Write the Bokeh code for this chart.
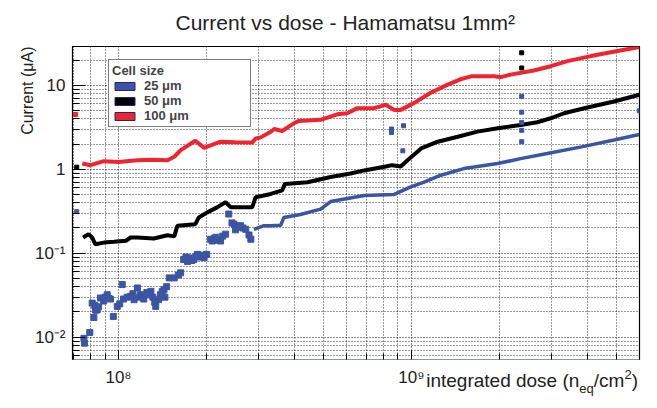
from bokeh.plotting import figure
from bokeh.layouts import column
from bokeh.models import (FixedTicker, CustomJSTickFormatter, Legend, LegendItem,
                          Title, ColumnDataSource, Div)
from bokeh.embed import file_html
from bokeh.resources import INLINE

# ---------------- data ----------------
red_x = [7.52e7, 8.02e7, 8.91e7, 1.00e8, 1.16e8, 1.30e8, 1.47e8, 1.55e8, 1.63e8, 1.83e8,
         1.96e8, 2.23e8, 2.50e8, 2.86e8, 2.94e8, 3.06e8, 3.31e8, 3.40e8, 3.62e8, 3.97e8,
         4.13e8, 4.90e8, 5.58e8, 6.04e8, 6.54e8, 7.45e8, 8.17e8, 8.73e8, 9.19e8, 1.02e9,
         1.16e9, 1.33e9, 1.47e9, 1.60e9, 1.92e9, 2.02e9, 2.18e9, 2.62e9, 2.99e9, 3.41e9,
         4.10e9, 5.06e9, 6.00e9]
red_y = [1.17, 1.12, 1.25, 1.22, 1.28, 1.30, 1.28, 1.41, 1.69, 2.19,
         1.80, 2.13, 2.10, 2.08, 2.33, 2.40, 2.80, 3.02, 2.86, 3.53,
         3.77, 3.88, 4.52, 4.65, 5.35, 5.35, 5.86, 5.10, 5.10, 6.14,
         8.09, 10.2, 11.8, 12.8, 12.8, 12.5, 13.4, 15.0, 16.9, 19.4,
         22.3, 25.6, 28.6]
red_out_x = [7.14e7]
red_out_y = [4.5]

black_x = [7.57e7, 7.90e7, 8.13e7, 8.34e7, 8.91e7, 9.64e7, 1.06e8, 1.10e8, 1.16e8, 1.32e8,
           1.47e8, 1.55e8, 1.59e8, 1.83e8, 1.88e8, 2.01e8, 2.17e8, 2.32e8, 2.42e8, 2.86e8,
           2.94e8, 3.31e8, 3.62e8, 3.70e8, 4.42e8, 5.30e8, 6.20e8, 6.90e8, 8.10e8, 8.60e8,
           9.20e8, 9.70e8, 1.08e9, 1.23e9, 1.44e9, 1.68e9, 1.97e9, 2.36e9, 2.69e9, 2.99e9,
           3.32e9, 3.99e9, 4.92e9, 6.00e9]
black_y = [0.154, 0.169, 0.154, 0.128, 0.134, 0.137, 0.141, 0.154, 0.154, 0.150,
           0.164, 0.159, 0.213, 0.222, 0.267, 0.307, 0.352, 0.405, 0.352, 0.352,
           0.465, 0.509, 0.56, 0.67, 0.70, 0.81, 0.89, 0.97, 1.07, 1.12,
           1.08, 1.28, 1.77, 2.13, 2.44, 2.81, 3.08, 3.37, 3.63, 4.05,
           4.65, 5.44, 6.42, 7.73]
black_out_x = [7.2e7, 2.38e9, 2.38e9]
black_out_y = [1.06, 24.4, 16.1]

blue_x = [2.90e8, 3.14e8, 3.31e8, 3.58e8, 3.67e8, 4.18e8, 4.90e8, 5.30e8, 6.90e8, 8.70e8,
          9.90e8, 1.10e9, 1.26e9, 1.51e9, 1.97e9, 2.36e9, 2.91e9, 3.81e9, 4.92e9, 6.00e9]
blue_y = [0.193, 0.213, 0.213, 0.215, 0.267, 0.29, 0.336, 0.413, 0.488, 0.50,
          0.614, 0.70, 0.85, 1.02, 1.17, 1.34, 1.54, 1.85, 2.23, 2.60]
blue_scatter_x = [7.62e7, 7.65e7, 7.98e7, 8.24e7, 8.13e7, 8.30e7, 8.46e7, 8.68e7, 8.90e7, 9.15e7,
                  9.39e7, 9.60e7, 9.90e7, 1.03e8, 1.04e8, 1.07e8, 1.10e8, 1.13e8, 1.16e8, 1.19e8,
                  1.22e8, 1.25e8, 1.29e8, 1.31e8, 1.34e8, 1.37e8, 1.39e8, 1.43e8, 1.46e8, 1.49e8,
                  1.55e8, 1.60e8, 1.63e8, 1.67e8, 1.72e8, 1.76e8, 1.81e8, 1.86e8, 1.91e8, 1.96e8,
                  2.00e8, 2.06e8, 2.12e8, 2.18e8, 2.23e8, 2.32e8, 2.38e8, 2.44e8, 2.48e8, 2.55e8,
                  2.61e8, 2.66e8, 2.72e8, 2.79e8, 2.83e8,
                  8.35e7, 8.55e7, 9.00e7, 9.25e7, 1.01e8, 1.12e8, 1.18e8, 1.27e8, 1.33e8, 1.41e8,
                  1.44e8, 1.70e8, 1.78e8, 1.84e8, 1.94e8, 2.09e8, 2.15e8, 2.27e8, 2.51e8, 2.58e8]
blue_scatter_y = [0.0097, 0.0085, 0.0114, 0.0172, 0.0255, 0.0240, 0.0212, 0.0293, 0.0270, 0.0321,
                  0.0285, 0.0177, 0.0233, 0.0424, 0.0285, 0.0300, 0.0307, 0.0280, 0.0386, 0.0321,
                  0.0285, 0.0340, 0.0352, 0.0300, 0.0233, 0.0280, 0.0321, 0.0369, 0.0400, 0.0509,
                  0.0509, 0.0550, 0.0585, 0.0845, 0.0800, 0.0880, 0.0845, 0.0970, 0.0900, 0.0885,
                  0.0970, 0.147, 0.150, 0.143, 0.140, 0.169, 0.293, 0.230, 0.222, 0.210,
                  0.213, 0.200, 0.193, 0.165, 0.147,
                  0.0210, 0.0230, 0.0300, 0.0290, 0.0250, 0.0330, 0.0300, 0.0320, 0.0260, 0.0350,
                  0.0300, 0.0900, 0.0820, 0.0920, 0.0950, 0.140, 0.155, 0.160, 0.190, 0.205]
blue_out_x = [7.2e7, 8.55e8, 8.55e8, 9.4e8, 9.35e8, 2.38e9, 2.38e9, 2.38e9, 2.38e9, 2.38e9, 6.0e9]
blue_out_y = [0.313, 3.02, 2.75, 3.3, 1.66, 7.38, 4.79, 3.62, 2.91, 2.13, 4.97]

series_labels = ["25 \u03bcm", "50 \u03bcm", "100 \u03bcm"]
series_colors = ["#3b55a3", "#000000", "#ee2430"]

x_major = [1e8, 1e9]
x_major_labels = ["10\u2078", "10\u2079"]
x_minor = [7e7, 8e7, 9e7, 2e8, 3e8, 4e8, 5e8, 6e8, 7e8, 8e8, 9e8,
           2e9, 3e9, 4e9, 5e9, 6e9]
y_major = [0.01, 0.1, 1, 10]
y_major_labels = ["10\u207b\u00b2", "10\u207b\u00b9", "1", "10"]
y_minor = [0.006, 0.007, 0.008, 0.009, 0.02, 0.03, 0.04, 0.05, 0.06, 0.07, 0.08, 0.09,
           0.2, 0.3, 0.4, 0.5, 0.6, 0.7, 0.8, 0.9, 2, 3, 4, 5, 6, 7, 8, 9, 20]

# x axis title pieces: main text, subscript, tail, superscript, close
xlabel_parts = ["integrated dose (n", "eq", "/cm", "2", ")"]

FONT = "Liberation Sans"
W, H = 641, 390
BL, BR, BT, BB = 72, 2, 45, 31
FW, FH = W - BL - BR, H - BT - BB

p = figure(width=W, height=H, x_axis_type="log", y_axis_type="log",
           x_range=(6.965e7, 6.01e9), y_range=(0.00543, 29.0),
           output_backend="svg", toolbar_location=None,
           min_border_left=BL, min_border_right=BR, min_border_top=BT, min_border_bottom=BB)

p.title.text = "Current vs dose - Hamamatsu 1mm\u00b2"
p.title.align = "left"
p.title.offset = 103
p.title.vertical_align = "top"
p.title.text_font = FONT
p.title.text_font_size = "21px"
p.title.text_font_style = "normal"
p.title.text_color = "#222222"
p.title.standoff = 21

p.background_fill_color = "white"
p.border_fill_color = "white"
p.outline_line_color = "black"
p.outline_line_width = 1.2

xt = FixedTicker(ticks=x_major, minor_ticks=x_minor)
yt = FixedTicker(ticks=y_major, minor_ticks=y_minor)
p.xaxis.ticker = xt
p.yaxis.ticker = yt
p.xgrid.ticker = xt
p.ygrid.ticker = yt

fmt_code = """
let best = 0, bd = 1e9;
for (let i = 0; i < vals.length; i++) {
  const d = Math.abs(Math.log10(tick) - Math.log10(vals[i]));
  if (d < bd) { bd = d; best = i; }
}
return labs[best];
"""
p.xaxis.formatter = CustomJSTickFormatter(args=dict(vals=x_major, labs=x_major_labels), code=fmt_code)
p.yaxis.formatter = CustomJSTickFormatter(args=dict(vals=y_major, labs=y_major_labels), code=fmt_code)

for ax in (p.xaxis[0], p.yaxis[0]):
    ax.major_tick_out = 0
    ax.minor_tick_out = 0
    ax.major_label_text_font = FONT
    ax.major_label_text_font_size = "17px"
    ax.major_label_text_color = "#222222"
    ax.major_tick_line_color = "black"
    ax.minor_tick_line_color = "black"
p.xaxis.major_tick_in = 9
p.xaxis.minor_tick_in = 6
p.yaxis.major_tick_in = 13
p.yaxis.minor_tick_in = 7
p.xaxis.major_label_standoff = 8
p.yaxis.major_label_standoff = 7
p.xaxis.axis_line_color = "#8a93b8"
p.yaxis.axis_line_color = "black"

for g in (p.xgrid[0], p.ygrid[0]):
    g.grid_line_color = "black"
    g.grid_line_alpha = 0.9
    g.grid_line_dash = "1 2"
    g.minor_grid_line_color = "black"
    g.minor_grid_line_alpha = 0.8
    g.minor_grid_line_dash = "1 2"

# data
p.line(red_x, red_y, line_color=series_colors[2], line_width=4)
p.scatter(red_out_x, red_out_y, marker="square", size=4, color=series_colors[2])
p.line(black_x, black_y, line_color=series_colors[1], line_width=4)
p.scatter(black_out_x, black_out_y, marker="square", size=4, color=series_colors[1])
p.line(blue_x, blue_y, line_color=series_colors[0], line_width=3.5)
p.scatter(blue_scatter_x, blue_scatter_y, marker="square", size=6, color=series_colors[0])
p.scatter(blue_out_x, blue_out_y, marker="square", size=4, color=series_colors[0])

# legend swatches (NaN quads: never drawn, only give the legend its colours)
nan = float("nan")
items = []
for lab, col in zip(series_labels, series_colors):
    src = ColumnDataSource(data=dict(l=[nan], r=[nan], t=[nan], b=[nan]))
    rr = p.quad(left="l", right="r", top="t", bottom="b", source=src,
                fill_color=col, line_color="#1c2a6e", line_width=1)
    items.append(LegendItem(label=lab, renderers=[rr]))

legend = Legend(items=items, location=(36, 232), title="Cell size",
                title_text_font=FONT, title_text_font_style="bold", title_text_font_size="13px",
                label_text_font=FONT, label_text_font_style="bold", label_text_font_size="13px",
                glyph_width=25, glyph_height=10, label_height=13, spacing=0,
                padding=3, margin=0, label_standoff=7, label_width=103, title_standoff=0,
                border_line_color="black", border_line_width=1.5,
                background_fill_color="white", background_fill_alpha=1.0)
p.add_layout(legend)

# y axis title (aligned to top)
yt_title = Title(text="Current (\u03bcA)", align="right", text_font=FONT,
                 text_font_size="16px", text_font_style="normal", text_color="#222222")
try:
    yt_title.standoff = -8
except Exception:
    yt_title.standoff = 0
p.add_layout(yt_title, "left")

# x axis title (with subscript / superscript), right aligned under the frame end
html = (
    '<div style="width:{w}px;text-align:right;font-family:\'{f}\';font-size:19px;'
    'line-height:22px;color:#222222;white-space:nowrap;">'
    '{a}<span style="font-size:13px;position:relative;top:6px;">{b}</span>{c}'
    '<span style="font-size:13px;position:relative;top:-8px;">{d}</span>{e}</div>'
).format(w=W - 3, f=FONT, a=xlabel_parts[0], b=xlabel_parts[1], c=xlabel_parts[2],
         d=xlabel_parts[3], e=xlabel_parts[4])
xlab = Div(text=html, width=W, height=22, margin=(-20, 0, 0, 0))

layout = column(p, xlab, spacing=0)
open("out.html", "w").write(file_html(layout, INLINE))
